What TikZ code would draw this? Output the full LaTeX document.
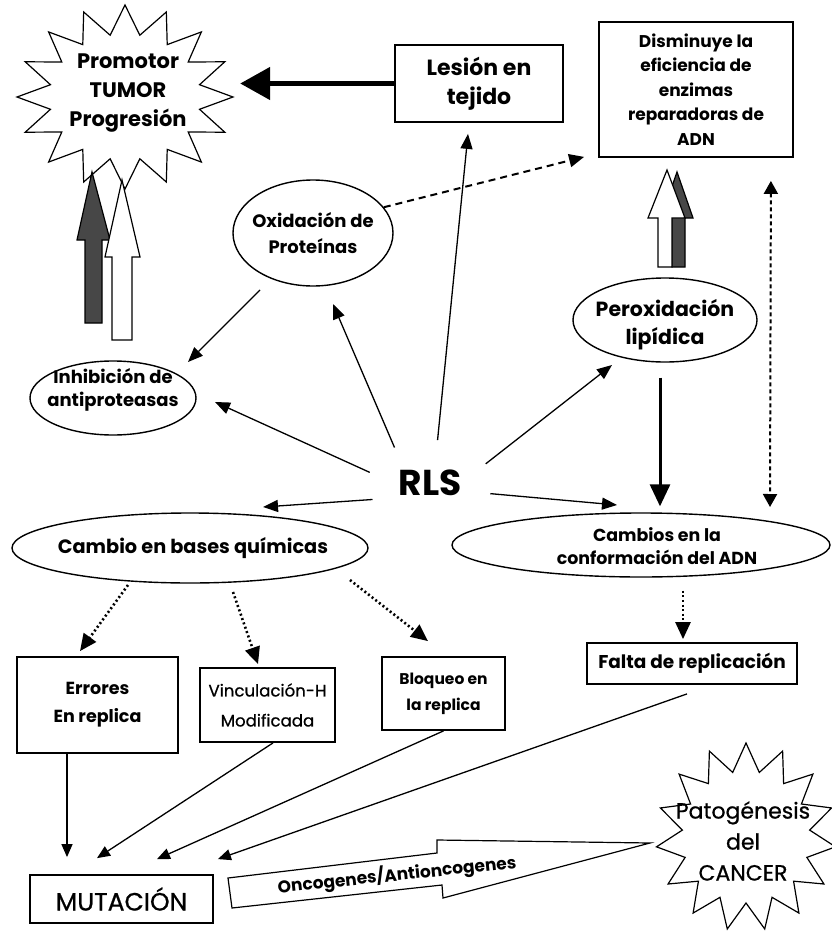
\documentclass[tikz,border=0pt]{standalone}
\usepackage{fontspec}
\setmainfont{Poppins}
\newfontfamily\medfont[FakeBold=0.7]{Poppins}
\usetikzlibrary{arrows.meta,calc,shapes.geometric}
\newcommand\fsz[2]{\fontsize{#1}{#2}\selectfont}
\begin{document}
\begin{tikzpicture}[x=1pt,y=-1pt,
  box/.style={draw,line width=1.8pt,rectangle,align=center,inner sep=0pt},
  ell/.style={draw,line width=1.4pt,ellipse,inner sep=0pt},
  lab/.style={align=center,inner sep=0pt},
  starline/.style={draw,line width=1.2pt,fill=white},
  arr/.style={line width=1.3pt,-{Triangle[length=15pt,width=12pt]}},
  arrsm/.style={line width=1.3pt,-{Triangle[length=13pt,width=11pt]}},
  thickarr/.style={line width=5pt,-{Triangle[length=30pt,width=32pt]}},
  midarr/.style={line width=3pt,-{Triangle[length=22pt,width=20pt]}},
  dotarr/.style={line width=2.6pt,dash pattern=on 2pt off 2.6pt,-{Triangle[length=17pt,width=15pt]}},
  dasharr/.style={line width=2pt,dash pattern=on 7pt off 5pt,-{Triangle[length=15pt,width=13pt]}},
  bidarr/.style={line width=2pt,dash pattern=on 4pt off 3pt,{Triangle[length=13pt,width=14pt]}-{Triangle[length=13pt,width=14pt]}},
  blockw/.style={draw,line width=1.2pt,fill=white,line join=miter},
  blockd/.style={draw,line width=1.2pt,fill=black!72,line join=miter}
]
\useasboundingbox (0,0) rectangle (831,934);
\fill[white] (0,0) rectangle (831,934);

% stars
\path[starline] plot[samples at={0,...,31},variable=\k]
  ({125+(mod(\k,2)==0 ? 108 : 76)*cos(90+\k*360/32)},
   {97-(mod(\k,2)==0 ? 92 : 63)*sin(90+\k*360/32)}) -- cycle;
\path[starline] plot[samples at={0,...,29},variable=\k]
  ({746+(mod(\k,2)==0 ? 90 : 64)*cos(90+\k*360/30)},
   {837-(mod(\k,2)==0 ? 94 : 66)*sin(90+\k*360/30)}) -- cycle;

% nodes
\node[lab,minimum width=224pt,minimum height=180pt,font=\fsz{21}{29}\bfseries] (prom) at (128,93)
  {Promotor\\TUMOR\\Progresión};
\node[box,minimum width=168pt,minimum height=77pt,font=\fsz{22}{29}\bfseries] (les) at (479,83.5)
  {Lesión en\\tejido};
\node[box,minimum width=194pt,minimum height=135pt,font=\fsz{17}{24.5}\bfseries] (dism) at (696,89.5)
  {Disminuye la\\eficiencia de\\enzimas\\reparadoras de\\ADN};
\node[ell,minimum width=160pt,minimum height=106pt,
  label={[lab,font=\fsz{18}{26}\bfseries]center:{Oxidación de\\Proteínas}}] (oxi) at (313,233) {};
\node[ell,minimum width=166pt,minimum height=74pt,
  label={[lab,yshift=8pt,font=\fsz{18}{23}\bfseries]center:{Inhibición de\\antiproteasas}}] (inh) at (113,398) {};
\node[lab,ellipse,minimum width=124pt,minimum height=86pt,font=\fsz{36}{36}\bfseries] (rls) at (430,483)
  {RLS};
\node[ell,minimum width=184pt,minimum height=84pt,
  label={[lab,yshift=-5pt,font=\fsz{20.5}{28}\bfseries]center:{Peroxidación\\lipídica}}] (per) at (665,320) {};
\node[ell,minimum width=356pt,minimum height=70pt,
  label={[lab,xshift=3pt,font=\fsz{19.3}{24}\bfseries]center:{Cambio en bases químicas}}] (cbq) at (190,548) {};
\node[ell,minimum width=378pt,minimum height=64pt,
  label={[lab,xshift=16pt,yshift=-1pt,font=\fsz{17.4}{23}\bfseries]center:{Cambios en la\\conformación del ADN}}] (cadn) at (641,545) {};
\node[box,minimum width=161pt,minimum height=96pt,font=\fsz{17.5}{28}\bfseries] (err) at (97.5,705)
  {Errores\\En replica};
\node[box,minimum width=135pt,minimum height=74pt,font=\fsz{16.6}{30}\medfont] (vin) at (267.5,705)
  {Vinculación-H\\Modificada};
\node[box,minimum width=123pt,minimum height=73pt,font=\fsz{15.5}{26}\bfseries] (blo) at (443.5,693.5)
  {Bloqueo en\\la replica};
\node[box,minimum width=210pt,minimum height=41pt,font=\fsz{18.5}{20}\bfseries] (fal) at (692,663.5)
  {Falta de replicación};
\node[box,minimum width=183pt,minimum height=48pt,font=\fsz{25}{26}\medfont] (mut) at (121.5,899)
  {MUTACIÓN};
\node[lab,font=\fsz{22}{31}\medfont] (pat) at (743,841)
  {Patogénesis\\del\\CANCER};

% block arrows
\path[blockd] (85,323) -- (85,240) -- (77,240) -- (92,172) -- (110,240) -- (102,240) -- (102,323) -- cycle;
\path[blockw] (112,340) -- (112,257) -- (105,257) -- (122,180) -- (140,257) -- (132,257) -- (132,340) -- cycle;
\path[blockd] (672,267) -- (672,218) -- (661,218) -- (677,172) -- (693,218) -- (685,218) -- (685,267) -- cycle;
\path[blockw] (658,267) -- (658,218) -- (648,218) -- (667,170) -- (685,218) -- (672,218) -- (672,267) -- cycle;
\path[blockw] (228,878) -- (437,853) -- (437,840) -- (650,843) -- (443,898) -- (442,885) -- (232,908) -- cycle;
\node[lab,rotate=6,font=\fsz{17}{17}\bfseries] (onc) at (397,875) {Oncogenes/Antioncogenes};

% connectors
\draw[thickarr] (les.west) -- (les.west -| prom.east);
\draw[dasharr] (oxi.20) -- ($(dism.south west)+(-14,-1)$);
\draw[arr] (rls.80) -- ($(les.south)+(-11,11)$);
\draw[arr] (rls.135) -- ($(oxi.center)+(20,71)$);
\draw[arr] ($(oxi.center)+(-53,57)$) -- ($(inh.center)+(75,-36)$);
\draw[arr] (rls.170) -- ($(inh.center)+(102,4)$);
\draw[arr] (rls.196) -- ($(cbq.center)+(73,-41)$);
\draw[arr] (rls.19) -- ($(per.center)+(-53,45)$);
\draw[arr] (rls.350) -- ($(cadn.center)+(-24,-40)$);
\draw[midarr] ($(per.south)+(-5,15)$) -- ($(cadn.north)+(19,-6)$);
\draw[bidarr] ($(dism.south east)+(-23,23)$) -- ($(cadn.center)+(129,-38)$);
\draw[dotarr] ($(cbq.center)+(-62,37)$) -- ($(err.north)+(-17.5,-5)$);
\draw[dotarr] ($(cbq.center)+(43,44)$) -- ($(vin.north)+(-9.5,-3)$);
\draw[dotarr] ($(cbq.center)+(160,32)$) -- ($(blo.north)+(-15.5,-15)$);
\draw[dotarr] ($(cadn.south)+(42,13)$) -- ($(fal.north)+(-9,-3)$);
\draw[arrsm] ($(err.south)+(-30.5,0)$) -- ($(mut.north)+(-54.5,-17)$);
\draw[arrsm] ($(vin.south)+(5.5,0)$) -- ($(mut.north)+(-24.5,-16)$);
\draw[arrsm] (blo.south) -- ($(mut.north)+(35.5,-15)$);
\draw[arrsm] ($(fal.south)+(-5,9)$) -- ($(mut.north east)+(4,-15)$);
\end{tikzpicture}
\end{document}
